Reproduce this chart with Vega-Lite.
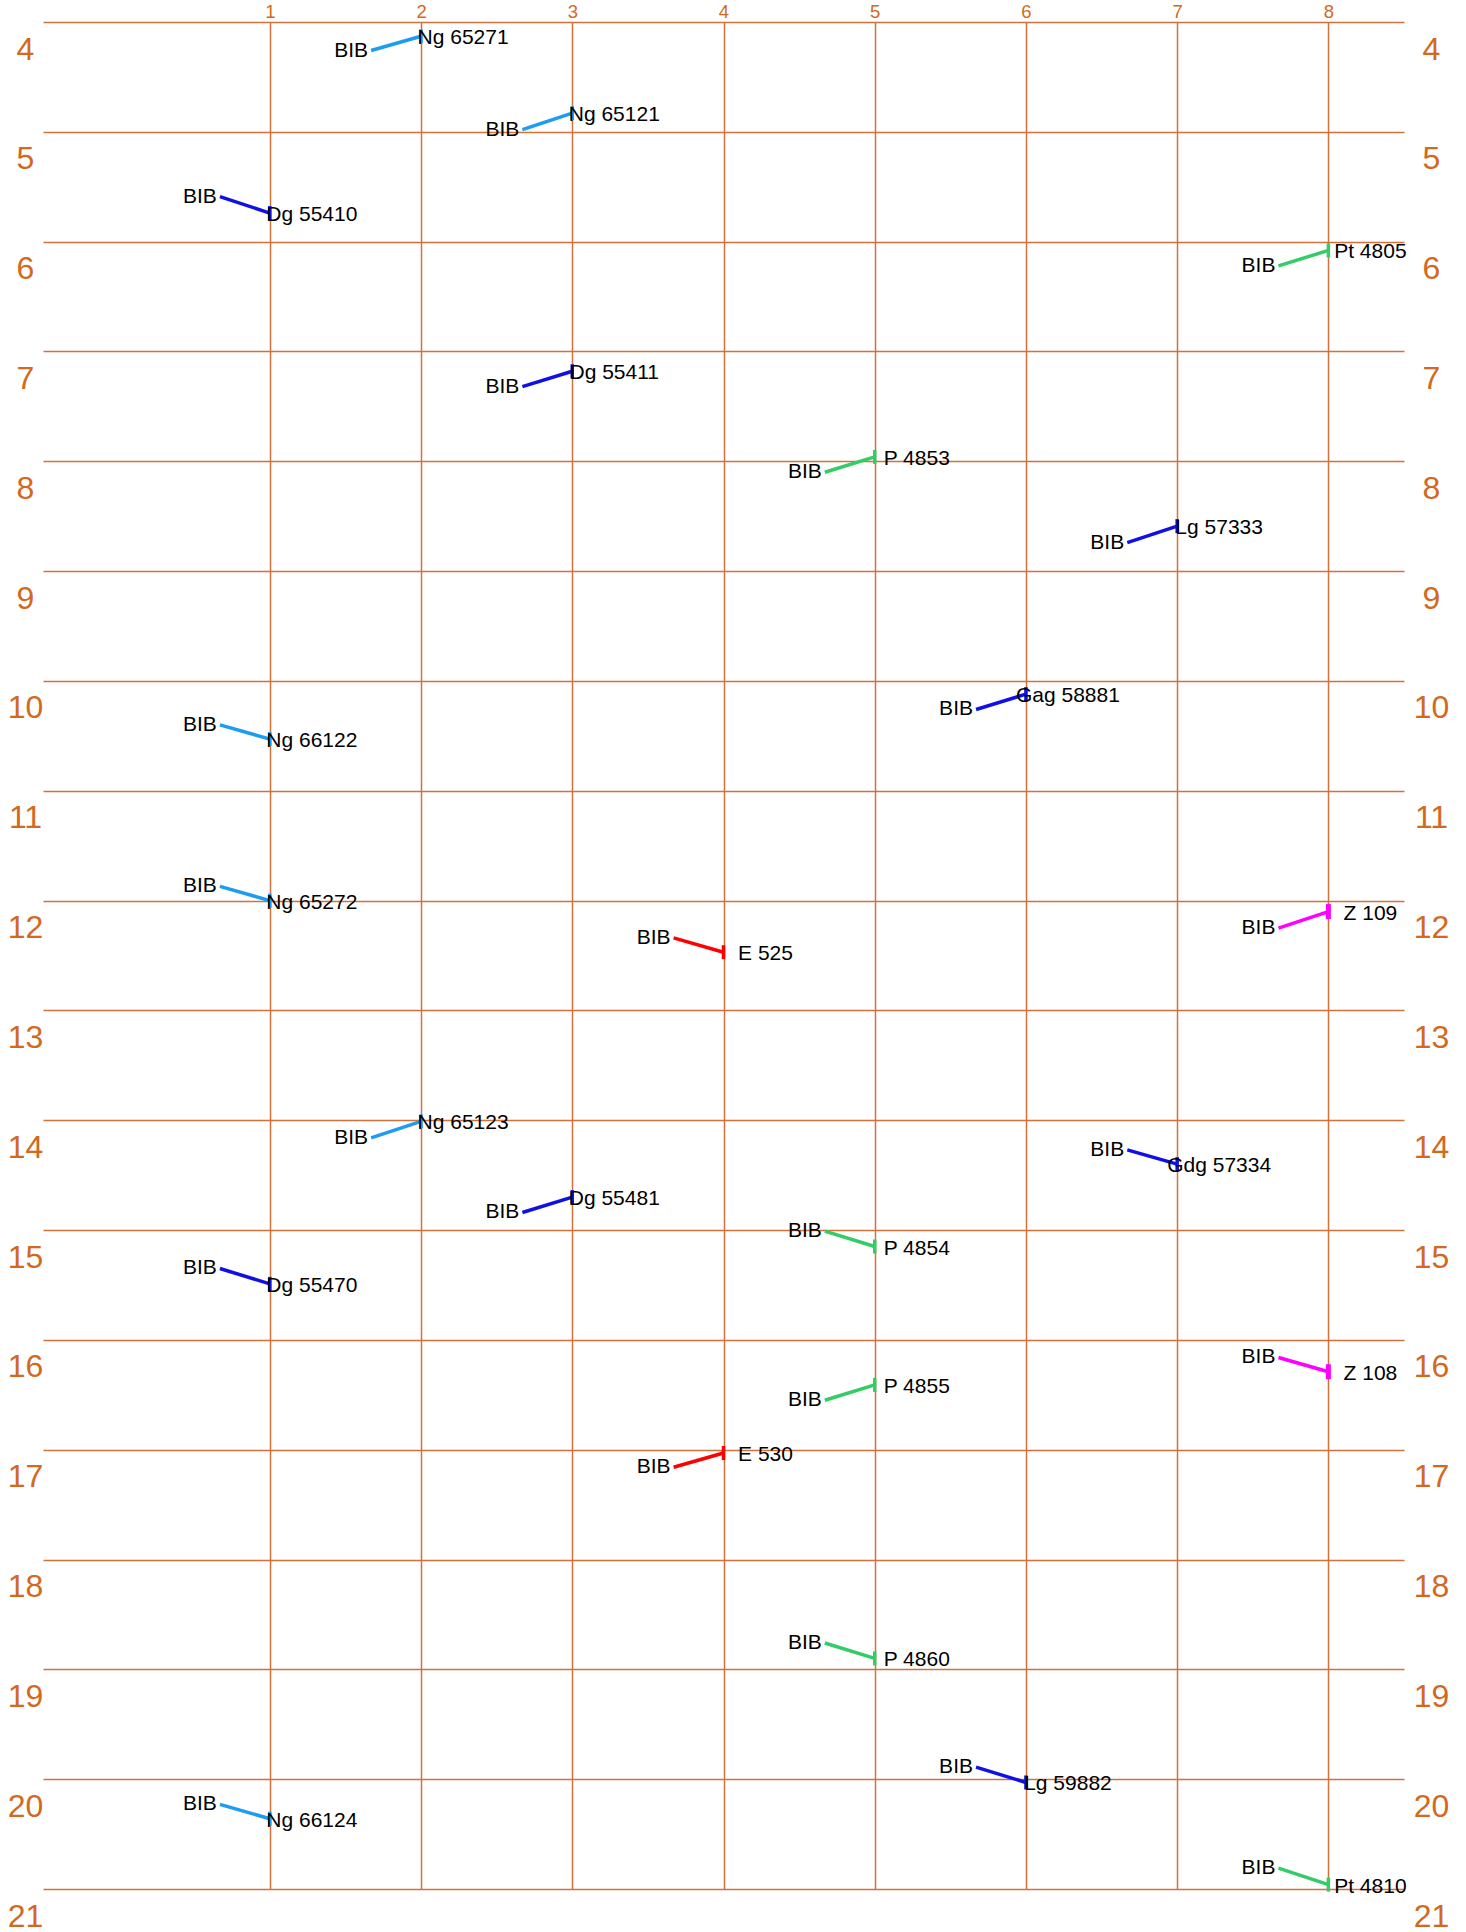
{
  "$schema": "https://vega.github.io/schema/vega-lite/v6.json",
  "width": 1361,
  "height": 1867,
  "autosize": "none",
  "padding": {"left": 43, "top": 22, "right": 62, "bottom": 43},
  "background": "white",
  "config": {"view": {"stroke": null}, "font": "Liberation Sans"},
  "data": {
    "values": [
      {"label": "Ng 65271", "bx": 1.67, "by": 4.26, "ex": 2, "ey": 4.13, "kind": "light"},
      {"label": "Ng 65121", "bx": 2.67, "by": 4.98, "ex": 3, "ey": 4.83, "kind": "light"},
      {"label": "Dg 55410", "bx": 0.67, "by": 5.59, "ex": 1, "ey": 5.74, "kind": "dark"},
      {"label": "Pt 4805", "bx": 7.67, "by": 6.22, "ex": 8, "ey": 6.08, "kind": "green"},
      {"label": "Dg 55411", "bx": 2.67, "by": 7.32, "ex": 3, "ey": 7.18, "kind": "dark"},
      {"label": "P 4853", "bx": 4.67, "by": 8.10, "ex": 5, "ey": 7.96, "kind": "green"},
      {"label": "Lg 57333", "bx": 6.67, "by": 8.74, "ex": 7, "ey": 8.59, "kind": "dark"},
      {"label": "Gag 58881", "bx": 5.67, "by": 10.26, "ex": 6, "ey": 10.12, "kind": "dark"},
      {"label": "Ng 66122", "bx": 0.67, "by": 10.40, "ex": 1, "ey": 10.53, "kind": "light"},
      {"label": "Ng 65272", "bx": 0.67, "by": 11.87, "ex": 1, "ey": 12.00, "kind": "light"},
      {"label": "E 525", "bx": 3.67, "by": 12.34, "ex": 4, "ey": 12.47, "kind": "red"},
      {"label": "Z 109", "bx": 7.67, "by": 12.25, "ex": 8, "ey": 12.10, "kind": "magenta"},
      {"label": "Ng 65123", "bx": 1.67, "by": 14.16, "ex": 2, "ey": 14.01, "kind": "light"},
      {"label": "Gdg 57334", "bx": 6.67, "by": 14.27, "ex": 7, "ey": 14.40, "kind": "dark"},
      {"label": "Dg 55481", "bx": 2.67, "by": 14.84, "ex": 3, "ey": 14.70, "kind": "dark"},
      {"label": "P 4854", "bx": 4.67, "by": 15.01, "ex": 5, "ey": 15.15, "kind": "green"},
      {"label": "Dg 55470", "bx": 0.67, "by": 15.35, "ex": 1, "ey": 15.49, "kind": "dark"},
      {"label": "Z 108", "bx": 7.67, "by": 16.16, "ex": 8, "ey": 16.29, "kind": "magenta"},
      {"label": "P 4855", "bx": 4.67, "by": 16.55, "ex": 5, "ey": 16.41, "kind": "green"},
      {"label": "E 530", "bx": 3.67, "by": 17.16, "ex": 4, "ey": 17.03, "kind": "red"},
      {"label": "P 4860", "bx": 4.67, "by": 18.76, "ex": 5, "ey": 18.90, "kind": "green"},
      {"label": "Lg 59882", "bx": 5.67, "by": 19.89, "ex": 6, "ey": 20.03, "kind": "dark"},
      {"label": "Ng 66124", "bx": 0.67, "by": 20.23, "ex": 1, "ey": 20.36, "kind": "light"},
      {"label": "Pt 4810", "bx": 7.67, "by": 20.81, "ex": 8, "ey": 20.96, "kind": "green"}
    ]
  },
  "resolve": {"axis": {"y": "independent"}},
  "layer": [
    {
      "mark": {"type": "rule", "strokeCap": "butt"},
      "encoding": {
        "x": {"field": "bx", "type": "quantitative",
          "scale": {"domain": [-0.5, 8.5], "nice": false, "zero": false},
          "axis": {"orient": "top", "values": [1, 2, 3, 4, 5, 6, 7, 8], "format": "d", "grid": true, "gridColor": "#D4703A", "gridWidth": 1.5, "gridOpacity": 1,
            "domain": false, "ticks": false, "title": null, "labelColor": "#D2691E", "labelFontSize": 18.5, "labelPadding": 1, "labelFlush": false, "labelOverlap": false}},
        "x2": {"field": "ex"},
        "y": {"field": "by", "type": "quantitative",
          "scale": {"domain": [4, 21], "nice": false, "zero": false, "reverse": true},
          "axis": {"orient": "left", "values": [4, 5, 6, 7, 8, 9, 10, 11, 12, 13, 14, 15, 16, 17, 18, 19, 20, 21], "grid": true, "gridColor": "#D4703A", "gridWidth": 1.5, "gridOpacity": 1,
            "domain": false, "ticks": false, "title": null, "labelColor": "#D2691E", "labelFontSize": 32, "labelAlign": "center", "labelPadding": 18, "labelOffset": 27, "labelFlush": false, "labelOverlap": false}},
        "y2": {"field": "ey"},
        "color": {"field": "kind", "type": "nominal",
          "scale": {"domain": ["light", "dark", "green", "red", "magenta"], "range": ["#1E9CEF", "#1010E6", "#33CC66", "#FF0000", "#FF00FF"]}, "legend": null},
        "strokeWidth": {"field": "kind", "type": "nominal",
          "scale": {"domain": ["light", "dark", "green", "red", "magenta"], "range": [3.5, 3.5, 3.5, 3.5, 5]}, "legend": null}
      }
    },
    {
      "transform": [{"filter": "datum.kind != 'magenta'"}],
      "mark": {"type": "tick", "orient": "vertical", "size": 14, "thickness": 3.5, "opacity": 1},
      "encoding": {
        "x": {"field": "ex", "type": "quantitative"},
        "y": {"field": "ey", "type": "quantitative", "axis": null},
        "color": {"field": "kind", "type": "nominal", "legend": null}
      }
    },
    {
      "transform": [{"filter": "datum.kind == 'magenta'"}],
      "mark": {"type": "tick", "orient": "vertical", "size": 15, "thickness": 5, "opacity": 1},
      "encoding": {
        "x": {"field": "ex", "type": "quantitative"},
        "y": {"field": "ey", "type": "quantitative", "axis": null},
        "color": {"field": "kind", "type": "nominal", "legend": null}
      }
    },
    {
      "mark": {"type": "text", "align": "center", "baseline": "middle", "dx": -20, "fontSize": 21, "color": "black"},
      "encoding": {
        "x": {"field": "bx", "type": "quantitative"},
        "y": {"field": "by", "type": "quantitative",
          "axis": {"orient": "right", "values": [4, 5, 6, 7, 8, 9, 10, 11, 12, 13, 14, 15, 16, 17, 18, 19, 20, 21], "grid": false,
            "domain": false, "ticks": false, "title": null, "labelColor": "#D2691E", "labelFontSize": 32, "labelAlign": "center", "labelPadding": 27, "labelOffset": 27, "labelFlush": false, "labelOverlap": false}},
        "text": {"value": "BIB"}
      }
    },
    {
      "mark": {"type": "text", "align": "center", "baseline": "middle", "dx": 42, "dy": 2, "fontSize": 21, "color": "black"},
      "encoding": {
        "x": {"field": "ex", "type": "quantitative"},
        "y": {"field": "ey", "type": "quantitative", "axis": null},
        "text": {"field": "label"}
      }
    }
  ]
}
